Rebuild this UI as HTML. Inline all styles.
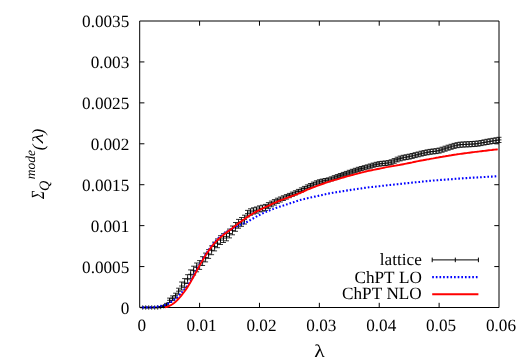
<!DOCTYPE html><html><head><meta charset="utf-8"><style>html,body{margin:0;padding:0;background:#fff}svg{display:block;filter:blur(0.35px)}text{font-family:"Liberation Serif",serif;fill:#000;text-rendering:geometricPrecision;font-kerning:none}</style></head><body>
<svg width="518" height="363" viewBox="0 0 518 363">
<rect width="518" height="363" fill="#fff"/>
<path d="M139.7,21.0H499.0V307.5H139.7ZM199.58,307.5v-4.7M199.58,21.0v4.7M259.47,307.5v-4.7M259.47,21.0v4.7M319.35,307.5v-4.7M319.35,21.0v4.7M379.23,307.5v-4.7M379.23,21.0v4.7M439.12,307.5v-4.7M439.12,21.0v4.7M139.7,266.57h4.7M499.0,266.57h-4.7M139.7,225.64h4.7M499.0,225.64h-4.7M139.7,184.71h4.7M499.0,184.71h-4.7M139.7,143.79h4.7M499.0,143.79h-4.7M139.7,102.86h4.7M499.0,102.86h-4.7M139.7,61.93h4.7M499.0,61.93h-4.7" stroke="#000" stroke-width="1" fill="none"/>
<path d="M142.7,307.2V307.8M140.2,307.2h5M140.2,307.8h5M140.2,307.5h5M142.7,305.3v4.4M145.7,307.2V307.8M143.2,307.2h5M143.2,307.8h5M143.2,307.5h5M145.7,305.3v4.4M148.7,307.2V307.8M146.2,307.2h5M146.2,307.8h5M146.2,307.5h5M148.7,305.3v4.4M151.7,307.2V307.8M149.2,307.2h5M149.2,307.8h5M149.2,307.5h5M151.7,305.3v4.4M154.7,307.2V307.8M152.2,307.2h5M152.2,307.8h5M152.2,307.5h5M154.7,305.3v4.4M157.7,307.2V307.8M155.2,307.2h5M155.2,307.8h5M155.2,307.5h5M157.7,305.3v4.4M160.7,306.5V307.5M158.2,306.5h5M158.2,307.5h5M158.2,307.0h5M160.7,304.8v4.4M163.7,305.4V307.0M161.2,305.4h5M161.2,307.0h5M161.2,306.2h5M163.7,304.0v4.4M166.6,303.4V305.8M164.1,303.4h5M164.1,305.8h5M164.1,304.6h5M166.6,302.4v4.4M169.6,298.1V302.5M167.1,298.1h5M167.1,302.5h5M167.1,300.3h5M169.6,298.1v4.4M172.6,295.9V300.6M170.1,295.9h5M170.1,300.6h5M170.1,298.2h5M172.6,296.0v4.4M175.6,293.2V298.2M173.1,293.2h5M173.1,298.2h5M173.1,295.7h5M175.6,293.5v4.4M178.6,288.2V294.2M176.1,288.2h5M176.1,294.2h5M176.1,291.2h5M178.6,289.0v4.4M181.6,282.0V290.0M179.1,282.0h5M179.1,290.0h5M179.1,286.0h5M181.6,283.8v4.4M184.6,278.6V287.4M182.1,278.6h5M182.1,287.4h5M182.1,283.0h5M184.6,280.8v4.4M187.6,274.7V283.5M185.1,274.7h5M185.1,283.5h5M185.1,279.1h5M187.6,276.9v4.4M190.6,269.9V278.7M188.1,269.9h5M188.1,278.7h5M188.1,274.3h5M190.6,272.1v4.4M193.6,266.2V275.0M191.1,266.2h5M191.1,275.0h5M191.1,270.6h5M193.6,268.4v4.4M196.6,263.0V271.8M194.1,263.0h5M194.1,271.8h5M194.1,267.4h5M196.6,265.2v4.4M199.6,260.6V269.4M197.1,260.6h5M197.1,269.4h5M197.1,265.0h5M199.6,262.8v4.4M202.6,256.7V265.5M200.1,256.7h5M200.1,265.5h5M200.1,261.1h5M202.6,258.9v4.4M205.6,253.1V261.9M203.1,253.1h5M203.1,261.9h5M203.1,257.5h5M205.6,255.3v4.4M208.6,249.6V258.4M206.1,249.6h5M206.1,258.4h5M206.1,254.0h5M208.6,251.8v4.4M211.6,245.9V254.7M209.1,245.9h5M209.1,254.7h5M209.1,250.3h5M211.6,248.1v4.4M214.6,242.1V250.9M212.1,242.1h5M212.1,250.9h5M212.1,246.5h5M214.6,244.3v4.4M217.5,238.9V247.7M215.0,238.9h5M215.0,247.7h5M215.0,243.3h5M217.5,241.1v4.4M220.5,235.7V244.5M218.0,235.7h5M218.0,244.5h5M218.0,240.1h5M220.5,237.9v4.4M223.5,233.7V242.5M221.0,233.7h5M221.0,242.5h5M221.0,238.1h5M223.5,235.9v4.4M226.5,232.0V240.8M224.0,232.0h5M224.0,240.8h5M224.0,236.4h5M226.5,234.2v4.4M229.5,229.1V237.9M227.0,229.1h5M227.0,237.9h5M227.0,233.5h5M229.5,231.3v4.4M232.5,226.0V234.8M230.0,226.0h5M230.0,234.8h5M230.0,230.4h5M232.5,228.2v4.4M235.5,222.5V231.3M233.0,222.5h5M233.0,231.3h5M233.0,226.9h5M235.5,224.7v4.4M238.5,219.4V228.2M236.0,219.4h5M236.0,228.2h5M236.0,223.8h5M238.5,221.6v4.4M241.5,217.5V226.3M239.0,217.5h5M239.0,226.3h5M239.0,221.9h5M241.5,219.7v4.4M244.5,215.2V224.0M242.0,215.2h5M242.0,224.0h5M242.0,219.6h5M244.5,217.4v4.4M247.5,210.4V216.8M245.0,210.4h5M245.0,216.8h5M245.0,213.6h5M247.5,211.4v4.4M250.5,208.8V215.2M248.0,208.8h5M248.0,215.2h5M248.0,212.0h5M250.5,209.8v4.4M253.5,207.8V214.0M251.0,207.8h5M251.0,214.0h5M251.0,210.9h5M253.5,208.7v4.4M256.5,207.0V213.2M254.0,207.0h5M254.0,213.2h5M254.0,210.1h5M256.5,207.9v4.4M259.5,205.9V211.9M257.0,205.9h5M257.0,211.9h5M257.0,208.9h5M259.5,206.7v4.4M262.5,205.2V211.2M260.0,205.2h5M260.0,211.2h5M260.0,208.2h5M262.5,206.0v4.4M265.5,204.4V210.4M263.0,204.4h5M263.0,210.4h5M263.0,207.4h5M265.5,205.2v4.4M268.4,202.6V208.4M265.9,202.6h5M265.9,208.4h5M265.9,205.5h5M268.4,203.3v4.4M271.4,201.1V206.8M268.9,201.1h5M268.9,206.8h5M268.9,203.9h5M271.4,201.7v4.4M274.4,199.6V205.1M271.9,199.6h5M271.9,205.1h5M271.9,202.4h5M274.4,200.2v4.4M277.4,198.2V203.4M274.9,198.2h5M274.9,203.4h5M274.9,200.8h5M277.4,198.6v4.4M280.4,197.0V202.0M277.9,197.0h5M277.9,202.0h5M277.9,199.5h5M280.4,197.3v4.4M283.4,195.8V200.5M280.9,195.8h5M280.9,200.5h5M280.9,198.2h5M283.4,196.0v4.4M286.4,194.6V199.1M283.9,194.6h5M283.9,199.1h5M283.9,196.9h5M286.4,194.7v4.4M289.4,193.4V197.7M286.9,193.4h5M286.9,197.7h5M286.9,195.5h5M289.4,193.3v4.4M292.4,192.1V196.3M289.9,192.1h5M289.9,196.3h5M289.9,194.2h5M292.4,192.0v4.4M295.4,190.8V194.9M292.9,190.8h5M292.9,194.9h5M292.9,192.9h5M295.4,190.7v4.4M298.4,189.4V193.6M295.9,189.4h5M295.9,193.6h5M295.9,191.5h5M298.4,189.3v4.4M301.4,187.9V192.1M298.9,187.9h5M298.9,192.1h5M298.9,190.0h5M301.4,187.8v4.4M304.4,186.4V190.6M301.9,186.4h5M301.9,190.6h5M301.9,188.5h5M304.4,186.3v4.4M307.4,184.9V189.1M304.9,184.9h5M304.9,189.1h5M304.9,187.0h5M307.4,184.8v4.4M310.4,183.5V187.6M307.9,183.5h5M307.9,187.6h5M307.9,185.6h5M310.4,183.4v4.4M313.4,182.1V186.3M310.9,182.1h5M310.9,186.3h5M310.9,184.2h5M313.4,182.0v4.4M316.4,180.8V184.9M313.9,180.8h5M313.9,184.9h5M313.9,182.9h5M316.4,180.7v4.4M319.4,179.8V183.9M316.9,179.8h5M316.9,183.9h5M316.9,181.8h5M319.4,179.6v4.4M322.3,179.1V183.1M319.8,179.1h5M319.8,183.1h5M319.8,181.1h5M322.3,178.9v4.4M325.3,178.5V182.6M322.8,178.5h5M322.8,182.6h5M322.8,180.6h5M325.3,178.4v4.4M328.3,177.9V181.9M325.8,177.9h5M325.8,181.9h5M325.8,179.9h5M328.3,177.7v4.4M331.3,176.9V180.9M328.8,176.9h5M328.8,180.9h5M328.8,178.9h5M331.3,176.7v4.4M334.3,175.7V179.8M331.8,175.7h5M331.8,179.8h5M331.8,177.8h5M334.3,175.6v4.4M337.3,174.6V178.6M334.8,174.6h5M334.8,178.6h5M334.8,176.6h5M337.3,174.4v4.4M340.3,173.5V177.5M337.8,173.5h5M337.8,177.5h5M337.8,175.5h5M340.3,173.3v4.4M343.3,172.4V176.4M340.8,172.4h5M340.8,176.4h5M340.8,174.4h5M343.3,172.2v4.4M346.3,171.4V175.4M343.8,171.4h5M343.8,175.4h5M343.8,173.4h5M346.3,171.2v4.4M349.3,170.3V174.4M346.8,170.3h5M346.8,174.4h5M346.8,172.3h5M349.3,170.1v4.4M352.3,169.3V173.3M349.8,169.3h5M349.8,173.3h5M349.8,171.3h5M352.3,169.1v4.4M355.3,168.3V172.4M352.8,168.3h5M352.8,172.4h5M352.8,170.3h5M355.3,168.1v4.4M358.3,167.3V171.4M355.8,167.3h5M355.8,171.4h5M355.8,169.4h5M358.3,167.2v4.4M361.3,166.5V170.6M358.8,166.5h5M358.8,170.6h5M358.8,168.5h5M361.3,166.3v4.4M364.3,165.7V169.8M361.8,165.7h5M361.8,169.8h5M361.8,167.8h5M364.3,165.6v4.4M367.3,164.9V169.0M364.8,164.9h5M364.8,169.0h5M364.8,167.0h5M367.3,164.8v4.4M370.3,164.0V168.2M367.8,164.0h5M367.8,168.2h5M367.8,166.1h5M370.3,163.9v4.4M373.2,163.1V167.3M370.7,163.1h5M370.7,167.3h5M370.7,165.2h5M373.2,163.0v4.4M376.2,162.3V166.6M373.7,162.3h5M373.7,166.6h5M373.7,164.4h5M376.2,162.2v4.4M379.2,161.7V166.1M376.7,161.7h5M376.7,166.1h5M376.7,163.9h5M379.2,161.7v4.4M382.2,161.3V165.8M379.7,161.3h5M379.7,165.8h5M379.7,163.6h5M382.2,161.4v4.4M385.2,161.0V165.5M382.7,161.0h5M382.7,165.5h5M382.7,163.3h5M385.2,161.1v4.4M388.2,160.6V165.2M385.7,160.6h5M385.7,165.2h5M385.7,162.9h5M388.2,160.7v4.4M391.2,159.8V164.4M388.7,159.8h5M388.7,164.4h5M388.7,162.1h5M391.2,159.9v4.4M394.2,158.6V163.3M391.7,158.6h5M391.7,163.3h5M391.7,160.9h5M394.2,158.7v4.4M397.2,157.2V161.9M394.7,157.2h5M394.7,161.9h5M394.7,159.6h5M397.2,157.4v4.4M400.2,156.1V160.9M397.7,156.1h5M397.7,160.9h5M397.7,158.5h5M400.2,156.3v4.4M403.2,155.3V160.1M400.7,155.3h5M400.7,160.1h5M400.7,157.7h5M403.2,155.5v4.4M406.2,154.8V159.6M403.7,154.8h5M403.7,159.6h5M403.7,157.2h5M406.2,155.0v4.4M409.2,154.2V159.1M406.7,154.2h5M406.7,159.1h5M406.7,156.6h5M409.2,154.4v4.4M412.2,153.5V158.4M409.7,153.5h5M409.7,158.4h5M409.7,155.9h5M412.2,153.7v4.4M415.2,152.7V157.6M412.7,152.7h5M412.7,157.6h5M412.7,155.2h5M415.2,153.0v4.4M418.2,152.0V156.8M415.7,152.0h5M415.7,156.8h5M415.7,154.4h5M418.2,152.2v4.4M421.2,151.2V156.1M418.7,151.2h5M418.7,156.1h5M418.7,153.7h5M421.2,151.5v4.4M424.1,150.6V155.4M421.6,150.6h5M421.6,155.4h5M421.6,153.0h5M424.1,150.8v4.4M427.1,149.9V154.8M424.6,149.9h5M424.6,154.8h5M424.6,152.4h5M427.1,150.2v4.4M430.1,149.4V154.3M427.6,149.4h5M427.6,154.3h5M427.6,151.8h5M430.1,149.6v4.4M433.1,149.0V153.9M430.6,149.0h5M430.6,153.9h5M430.6,151.5h5M433.1,149.3v4.4M436.1,148.7V153.6M433.6,148.7h5M433.6,153.6h5M433.6,151.1h5M436.1,148.9v4.4M439.1,148.1V153.1M436.6,148.1h5M436.6,153.1h5M436.6,150.6h5M439.1,148.4v4.4M442.1,147.2V152.2M439.6,147.2h5M439.6,152.2h5M439.6,149.7h5M442.1,147.5v4.4M445.1,146.2V151.2M442.6,146.2h5M442.6,151.2h5M442.6,148.7h5M445.1,146.5v4.4M448.1,145.2V150.2M445.6,145.2h5M445.6,150.2h5M445.6,147.7h5M448.1,145.5v4.4M451.1,144.3V149.3M448.6,144.3h5M448.6,149.3h5M448.6,146.8h5M451.1,144.6v4.4M454.1,143.4V148.4M451.6,143.4h5M451.6,148.4h5M451.6,145.9h5M454.1,143.7v4.4M457.1,142.7V147.7M454.6,142.7h5M454.6,147.7h5M454.6,145.2h5M457.1,143.0v4.4M460.1,142.2V147.3M457.6,142.2h5M457.6,147.3h5M457.6,144.7h5M460.1,142.5v4.4M463.1,142.0V147.1M460.6,142.0h5M460.6,147.1h5M460.6,144.5h5M463.1,142.3v4.4M466.1,141.8V146.9M463.6,141.8h5M463.6,146.9h5M463.6,144.4h5M466.1,142.2v4.4M469.1,141.7V146.8M466.6,141.7h5M466.6,146.8h5M466.6,144.2h5M469.1,142.0v4.4M472.1,141.5V146.6M469.6,141.5h5M469.6,146.6h5M469.6,144.1h5M472.1,141.9v4.4M475.0,141.3V146.4M472.5,141.3h5M472.5,146.4h5M472.5,143.9h5M475.0,141.7v4.4M478.0,141.0V146.1M475.5,141.0h5M475.5,146.1h5M475.5,143.6h5M478.0,141.4v4.4M481.0,140.5V145.6M478.5,140.5h5M478.5,145.6h5M478.5,143.0h5M481.0,140.8v4.4M484.0,139.9V145.0M481.5,139.9h5M481.5,145.0h5M481.5,142.5h5M484.0,140.3v4.4M487.0,139.3V144.5M484.5,139.3h5M484.5,144.5h5M484.5,141.9h5M487.0,139.7v4.4M490.0,138.8V144.0M487.5,138.8h5M487.5,144.0h5M487.5,141.4h5M490.0,139.2v4.4M493.0,138.3V143.5M490.5,138.3h5M490.5,143.5h5M490.5,140.9h5M493.0,138.7v4.4M496.0,137.8V143.0M493.5,137.8h5M493.5,143.0h5M493.5,140.4h5M496.0,138.2v4.4M499.0,137.3V142.5M496.5,137.3h5M496.5,142.5h5M496.5,139.9h5M499.0,137.7v4.4" stroke="#000" stroke-width="0.8" fill="none"/>
<path d="M142.4,307.4 L143.9,307.4 L145.4,307.4 L146.9,307.4 L148.4,307.4 L149.9,307.4 L151.4,307.4 L152.9,307.3 L154.4,307.1 L155.9,306.9 L157.4,306.6 L158.9,306.3 L160.4,306.0 L161.9,305.7 L163.4,305.3 L164.9,304.9 L166.4,304.4 L167.9,303.7 L169.4,302.9 L170.9,302.0 L172.4,301.1 L173.9,300.0 L175.4,298.8 L176.9,297.5 L178.4,296.1 L179.9,294.6 L181.4,292.9 L182.9,291.2 L184.4,289.3 L185.9,287.5 L187.4,285.6 L188.9,283.4 L190.4,281.1 L191.9,278.6 L193.4,276.0 L194.9,273.2 L196.4,270.5 L197.9,267.8 L199.4,265.1 L200.9,262.5 L202.4,259.9 L203.9,257.4 L205.4,254.9 L206.9,252.6 L208.4,250.3 L209.9,248.1 L211.4,246.0 L212.9,244.1 L214.4,242.3 L215.9,240.7 L217.4,239.1 L218.9,237.7 L220.4,236.4 L221.9,235.2 L223.4,234.0 L224.9,233.0 L226.4,232.0 L227.9,231.0 L229.4,230.1 L230.9,229.2 L232.4,228.4 L233.9,227.6 L235.4,226.8 L236.9,226.1 L238.4,225.5 L239.9,224.9 L241.4,224.3 L242.9,223.7 L244.4,223.1 L245.9,222.5 L247.4,221.7 L248.9,220.9 L250.4,220.0 L251.9,219.1 L253.4,218.3 L254.9,217.4 L256.4,216.6 L257.9,215.8 L259.4,215.0 L260.9,214.3 L262.4,213.5 L263.9,212.8 L265.4,212.2 L266.9,211.5 L268.4,210.9 L269.9,210.3 L271.4,209.7 L272.9,209.1 L274.4,208.5 L275.9,207.9 L277.4,207.4 L278.9,206.9 L280.4,206.4 L281.9,205.9 L283.4,205.5 L284.9,205.0 L286.4,204.5 L287.9,204.1 L289.4,203.6 L290.9,203.1 L292.4,202.6 L293.9,202.1 L295.4,201.6 L296.9,201.1 L298.4,200.6 L299.9,200.1 L301.4,199.7 L302.9,199.3 L304.4,199.0 L305.9,198.7 L307.4,198.3 L308.9,198.0 L310.4,197.6 L311.9,197.3 L313.4,197.0 L314.9,196.6 L316.4,196.3 L317.9,195.9 L319.4,195.6 L320.9,195.3 L322.4,194.9 L323.9,194.6 L325.4,194.2 L326.9,193.9 L328.4,193.6 L329.9,193.3 L331.4,193.1 L332.9,192.8 L334.4,192.6 L335.9,192.3 L337.4,192.1 L338.9,191.8 L340.4,191.6 L341.9,191.4 L343.4,191.1 L344.9,190.9 L346.4,190.6 L347.9,190.4 L349.4,190.2 L350.9,189.9 L352.4,189.7 L353.9,189.5 L355.4,189.3 L356.9,189.0 L358.4,188.8 L359.9,188.6 L361.4,188.4 L362.9,188.1 L364.4,187.9 L365.9,187.7 L367.4,187.5 L368.9,187.3 L370.4,187.1 L371.9,187.0 L373.4,186.8 L374.9,186.7 L376.4,186.5 L377.9,186.3 L379.4,186.2 L380.9,186.0 L382.4,185.8 L383.9,185.7 L385.4,185.5 L386.9,185.3 L388.4,185.2 L389.9,185.0 L391.4,184.9 L392.9,184.7 L394.4,184.5 L395.9,184.4 L397.4,184.2 L398.9,184.1 L400.4,183.9 L401.9,183.7 L403.4,183.6 L404.9,183.4 L406.4,183.3 L407.9,183.1 L409.4,183.0 L410.9,182.8 L412.4,182.6 L413.9,182.5 L415.4,182.3 L416.9,182.2 L418.4,182.0 L419.9,181.9 L421.4,181.7 L422.9,181.5 L424.4,181.4 L425.9,181.2 L427.4,181.1 L428.9,180.9 L430.4,180.8 L431.9,180.7 L433.4,180.5 L434.9,180.4 L436.4,180.3 L437.9,180.2 L439.4,180.0 L440.9,179.9 L442.4,179.8 L443.9,179.7 L445.4,179.6 L446.9,179.5 L448.4,179.4 L449.9,179.3 L451.4,179.2 L452.9,179.1 L454.4,178.9 L455.9,178.8 L457.4,178.7 L458.9,178.6 L460.4,178.5 L461.9,178.4 L463.4,178.3 L464.9,178.2 L466.4,178.1 L467.9,178.0 L469.4,177.9 L470.9,177.8 L472.4,177.7 L473.9,177.6 L475.4,177.5 L476.9,177.5 L478.4,177.4 L479.9,177.3 L481.4,177.2 L482.9,177.1 L484.4,177.0 L485.9,176.9 L487.4,176.8 L488.9,176.7 L490.4,176.7 L491.9,176.6 L493.4,176.5 L494.9,176.4 L496.4,176.3 L497.9,176.3" stroke="#0000ff" stroke-width="2.1" stroke-dasharray="1.65,1.99" fill="none"/>
<path d="M164.8,307.3 L166.3,307.0 L167.8,306.6 L169.3,305.9 L170.8,305.2 L172.3,304.3 L173.8,303.2 L175.3,302.0 L176.8,300.6 L178.3,299.0 L179.8,297.4 L181.3,295.6 L182.8,293.7 L184.3,291.7 L185.8,289.6 L187.3,287.4 L188.8,285.1 L190.3,282.6 L191.8,279.9 L193.3,277.2 L194.8,274.4 L196.3,271.6 L197.8,268.8 L199.3,266.1 L200.8,263.4 L202.3,260.8 L203.8,258.2 L205.3,255.8 L206.8,253.5 L208.3,251.2 L209.8,249.1 L211.3,247.1 L212.8,245.2 L214.3,243.4 L215.8,241.8 L217.3,240.2 L218.8,238.8 L220.3,237.4 L221.8,236.2 L223.3,235.0 L224.8,233.8 L226.3,232.7 L227.8,231.6 L229.3,230.5 L230.8,229.4 L232.3,228.2 L233.8,227.0 L235.3,225.8 L236.8,224.7 L238.3,223.5 L239.8,222.4 L241.3,221.3 L242.8,220.3 L244.3,219.2 L245.8,218.1 L247.3,217.1 L248.8,216.1 L250.3,215.1 L251.8,214.2 L253.3,213.3 L254.8,212.4 L256.3,211.6 L257.8,210.8 L259.3,210.1 L260.8,209.3 L262.3,208.6 L263.8,207.9 L265.3,207.2 L266.8,206.5 L268.3,205.8 L269.8,205.1 L271.3,204.4 L272.8,203.7 L274.3,203.0 L275.8,202.3 L277.3,201.6 L278.8,201.0 L280.3,200.4 L281.8,199.8 L283.3,199.3 L284.8,198.7 L286.3,198.1 L287.8,197.6 L289.3,197.0 L290.8,196.5 L292.3,195.9 L293.8,195.4 L295.3,194.8 L296.8,194.3 L298.3,193.7 L299.8,193.1 L301.3,192.5 L302.8,191.8 L304.3,191.1 L305.8,190.4 L307.3,189.7 L308.8,189.1 L310.3,188.5 L311.8,187.9 L313.3,187.3 L314.8,186.8 L316.3,186.2 L317.8,185.7 L319.3,185.1 L320.8,184.6 L322.3,184.0 L323.8,183.5 L325.3,182.9 L326.8,182.4 L328.3,181.9 L329.8,181.4 L331.3,180.9 L332.8,180.5 L334.3,180.1 L335.8,179.7 L337.3,179.3 L338.8,178.8 L340.3,178.4 L341.8,177.9 L343.3,177.5 L344.8,177.0 L346.3,176.6 L347.8,176.2 L349.3,175.8 L350.8,175.3 L352.3,175.0 L353.8,174.6 L355.3,174.2 L356.8,173.8 L358.3,173.4 L359.8,173.0 L361.3,172.6 L362.8,172.2 L364.3,171.9 L365.8,171.5 L367.3,171.1 L368.8,170.8 L370.3,170.5 L371.8,170.2 L373.3,169.9 L374.8,169.6 L376.3,169.3 L377.8,169.0 L379.3,168.7 L380.8,168.4 L382.3,168.1 L383.8,167.8 L385.3,167.4 L386.8,167.1 L388.3,166.9 L389.8,166.6 L391.3,166.3 L392.8,166.1 L394.3,165.8 L395.8,165.6 L397.3,165.3 L398.8,165.1 L400.3,164.8 L401.8,164.5 L403.3,164.2 L404.8,163.9 L406.3,163.6 L407.8,163.3 L409.3,163.0 L410.8,162.7 L412.3,162.4 L413.8,162.0 L415.3,161.7 L416.8,161.4 L418.3,161.1 L419.8,160.8 L421.3,160.5 L422.8,160.3 L424.3,160.0 L425.8,159.7 L427.3,159.4 L428.8,159.2 L430.3,158.9 L431.8,158.6 L433.3,158.4 L434.8,158.1 L436.3,157.8 L437.8,157.6 L439.3,157.3 L440.8,157.0 L442.3,156.8 L443.8,156.5 L445.3,156.3 L446.8,156.0 L448.3,155.8 L449.8,155.5 L451.3,155.3 L452.8,155.0 L454.3,154.8 L455.8,154.6 L457.3,154.3 L458.8,154.1 L460.3,153.9 L461.8,153.7 L463.3,153.5 L464.8,153.3 L466.3,153.1 L467.8,152.9 L469.3,152.7 L470.8,152.5 L472.3,152.3 L473.8,152.1 L475.3,151.9 L476.8,151.8 L478.3,151.6 L479.8,151.4 L481.3,151.2 L482.8,151.0 L484.3,150.9 L485.8,150.7 L487.3,150.5 L488.8,150.3 L490.3,150.1 L491.8,150.0 L493.3,149.8 L494.8,149.6 L496.3,149.5 L497.8,149.4" stroke="#ff0000" stroke-width="1.9" fill="none" stroke-linejoin="round"/>
<text x="129.3" y="313.5" font-size="17.2" text-anchor="end">0</text>
<text x="129.3" y="272.6" font-size="17.2" text-anchor="end">0.0005</text>
<text x="129.3" y="231.6" font-size="17.2" text-anchor="end">0.001</text>
<text x="129.3" y="190.7" font-size="17.2" text-anchor="end">0.0015</text>
<text x="129.3" y="149.8" font-size="17.2" text-anchor="end">0.002</text>
<text x="129.3" y="108.9" font-size="17.2" text-anchor="end">0.0025</text>
<text x="129.3" y="67.9" font-size="17.2" text-anchor="end">0.003</text>
<text x="129.3" y="27.0" font-size="17.2" text-anchor="end">0.0035</text>
<text x="141.70" y="331" font-size="17.2" text-anchor="middle">0</text>
<text x="201.58" y="331" font-size="17.2" text-anchor="middle">0.01</text>
<text x="261.47" y="331" font-size="17.2" text-anchor="middle">0.02</text>
<text x="321.35" y="331" font-size="17.2" text-anchor="middle">0.03</text>
<text x="381.23" y="331" font-size="17.2" text-anchor="middle">0.04</text>
<text x="441.12" y="331" font-size="17.2" text-anchor="middle">0.05</text>
<text x="501.00" y="331" font-size="17.2" text-anchor="middle">0.06</text>
<text transform="translate(314.3,357) scale(1.2,1)" font-size="18">λ</text>
<g transform="translate(44,199.5) rotate(-90)"><text transform="translate(0.5,0) scale(0.8,1.08)" font-size="17.2" font-style="italic">Σ</text><text x="8.5" y="4.9" font-size="14.3" font-style="italic">Q</text><text x="20.3" y="-9.3" font-size="13.5" font-style="italic">mode</text><text x="49.3" y="0" font-size="17.2" font-style="italic">(</text><text transform="translate(55.0,-1.4) skewX(-14) scale(1.42,1)" font-size="15.2">λ</text><text x="65" y="0" font-size="17.2" font-style="italic">)</text></g>
<text x="421.8" y="265.4" font-size="17.2" text-anchor="end">lattice</text>
<text x="421.8" y="282.5" font-size="17.2" text-anchor="end">ChPT LO</text>
<text x="421.8" y="299.4" font-size="17.2" text-anchor="end">ChPT NLO</text>
<path d="M432.2,259.9H478.4M432.2,257.6v4.6M478.4,257.6v4.6M455.3,257.6v4.6" stroke="#000" stroke-width="1" fill="none"/>
<path d="M432.2,277.1H478.4" stroke="#0000ff" stroke-width="2.1" stroke-dasharray="1.65,1.99" fill="none"/>
<path d="M432.2,294.3H478.4" stroke="#ff0000" stroke-width="1.9" fill="none"/>
</svg></body></html>
